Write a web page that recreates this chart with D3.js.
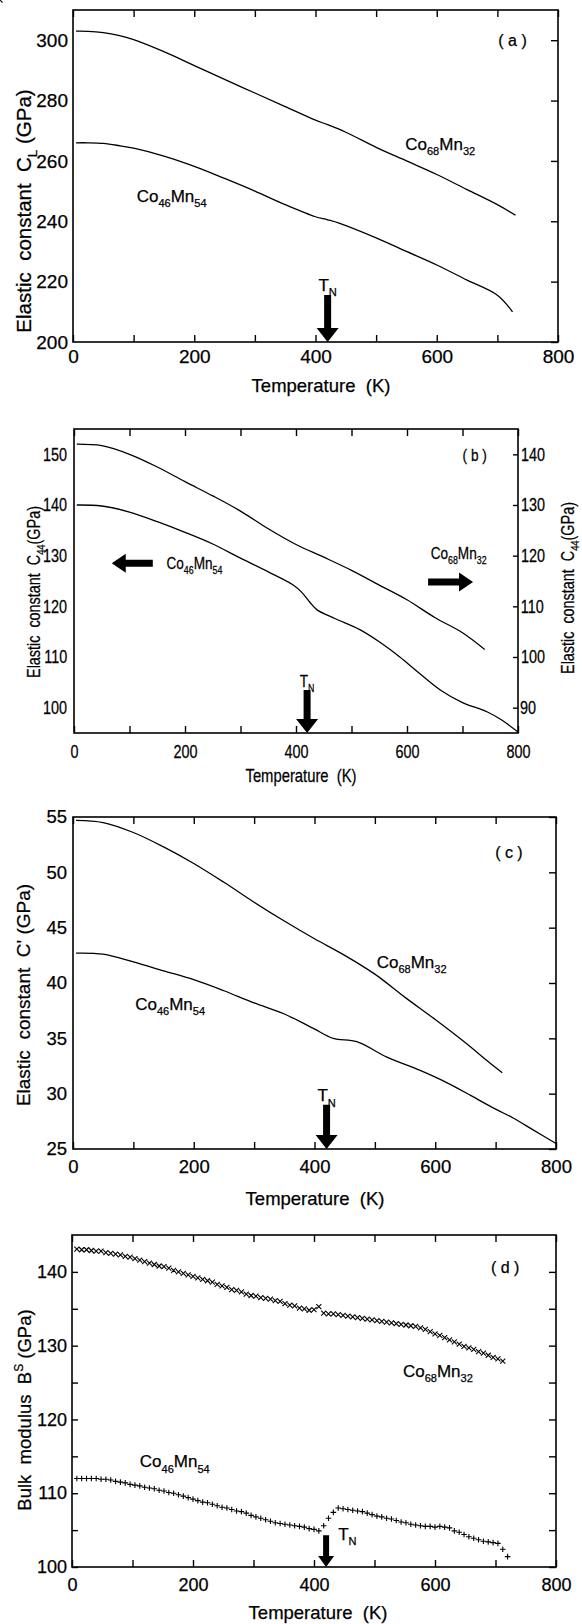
<!DOCTYPE html>
<html lang="en">
<head>
<meta charset="utf-8">
<title>Elastic constants of CoMn alloys</title>
<script src="https://cdn.jsdelivr.net/npm/d3@7"></script>
<style>
  body { margin: 0; background: #fff; }
  svg { display: block; background: #fff; }
  text { font-family: "Liberation Sans", Arial, Helvetica, sans-serif; fill: #000; stroke: #000; stroke-width: 0.25px; white-space: pre; }
  /* panel (b) was printed with condensed lettering */
  .narrow text { transform-box: fill-box; transform-origin: center; transform: scaleX(0.8); }
  .frame { fill: none; stroke: #000; stroke-width: 1.6px; }
  .curve { fill: none; stroke: #000; stroke-width: 1.3px; }
  .tick line { stroke: #000; stroke-width: 1.4px; }
  .mark { fill: none; stroke: #000; stroke-width: 1.1px; }
</style>
</head>
<body>
<div id="chart"></div>
<script>
// shared temperature axis
var tempTicks = [0, 100, 200, 300, 400, 500, 600, 700, 800];
var tempLabels = [0, 200, 400, 600, 800];
var tN = 420;

// (a) C_L
var tA68 = [5, 25, 50, 75, 100, 150, 200, 250, 300, 350, 400, 420, 450, 500, 550, 600, 650, 700, 730];
var cA68 = [303, 302.95, 302.5, 301.6, 300.2, 296.2, 291.6, 287, 282.5, 278, 273.5, 272, 269.5, 264.5, 260, 255.5, 250.5, 245.5, 242];
var tA46 = [5, 25, 50, 75, 100, 150, 200, 250, 300, 350, 400, 420, 440, 500, 550, 600, 650, 700, 725];
var cA46 = [266, 266, 265.8, 265.1, 264.2, 261.6, 258.2, 254.2, 250, 245.5, 241.5, 240.5, 239.3, 234.5, 230, 225.5, 220.5, 215.5, 210];
var ticksA = [200, 220, 240, 260, 280, 300];

// (b) C44, Co46Mn54 on left axis, Co68Mn32 on right axis
var tB46 = [5, 50, 100, 150, 200, 250, 300, 350, 395, 410, 425, 438, 470, 515, 550, 587, 620, 660, 700, 744, 770, 800];
var cB46 = [140, 139.8, 138.6, 136.7, 134.6, 132.3, 129.5, 126.8, 124.2, 122.8, 120.8, 119.3, 117.6, 115.4, 113, 110, 107, 103.5, 101, 99.2, 97.6, 95.2];
var tB68 = [5, 50, 100, 150, 200, 250, 300, 350, 400, 450, 500, 550, 600, 650, 700, 740];
var cB68 = [142, 141.7, 140.0, 137.5, 134.6, 131.8, 128.8, 125.3, 122.2, 119.7, 117.1, 114.2, 111.3, 107.8, 104.8, 101.5];
var ticksBLeft = [100, 110, 120, 130, 140, 150];
var ticksBRight = [90, 100, 110, 120, 130, 140];

// (c) C'
var tC68 = [5, 50, 100, 150, 200, 250, 300, 350, 400, 450, 500, 550, 600, 650, 690, 711];
var cC68 = [54.7, 54.5, 53.6, 52.3, 50.8, 49.1, 47.3, 45.6, 44.0, 42.5, 40.8, 38.7, 36.7, 34.6, 32.8, 31.9];
var tC46 = [5, 50, 100, 150, 200, 250, 300, 350, 398, 431, 470, 520, 575, 619, 660, 700, 729, 760, 800];
var cC46 = [42.7, 42.6, 41.9, 41.1, 40.3, 39.3, 38.2, 37.2, 35.9, 35.0, 34.7, 33.3, 32.1, 31.0, 29.8, 28.6, 27.8, 26.8, 25.5];
var ticksC = [25, 30, 35, 40, 45, 50, 55];

// (d) bulk modulus B^S, measured points
var tD = [8, 16, 24, 32, 40, 48, 56, 64, 72, 80, 88, 96, 104, 112, 120, 128, 136, 144, 152, 160,
  168, 176, 184, 192, 200, 208, 216, 224, 232, 240, 248, 256, 264, 272, 280, 288, 296, 304, 312, 320,
  328, 336, 344, 352, 360, 368, 376, 384, 392, 400, 408, 416, 424, 432, 440, 448, 456, 464, 472, 480,
  488, 496, 504, 512, 520, 528, 536, 544, 552, 560, 568, 576, 584, 592, 600, 608, 616, 624, 632, 640,
  648, 656, 664, 672, 680, 688, 696, 704, 712, 720];
var bD68 = [143.1, 143.0, 143.0, 142.9, 142.8, 142.8, 142.6, 142.5, 142.4, 142.3, 142.1, 142.0, 141.8, 141.6, 141.4, 141.2, 141.0, 140.8, 140.7, 140.5,
  140.2, 140.0, 139.8, 139.6, 139.4, 139.2, 139.0, 138.8, 138.6, 138.3, 138.1, 137.9, 137.6, 137.5, 137.3, 137.0, 136.8, 136.7, 136.5, 136.4,
  136.3, 136.1, 136.0, 135.7, 135.5, 135.4, 135.1, 135.0, 134.8, 134.9, 135.3, 134.4, 134.3, 134.3, 134.2, 134.1, 134.0, 133.9, 133.8, 133.7,
  133.6, 133.5, 133.4, 133.3, 133.2, 133.1, 133.0, 132.9, 132.8, 132.7, 132.6, 132.4, 132.2, 131.9, 131.6, 131.4, 131.1, 130.8, 130.5, 130.2,
  129.9, 129.7, 129.5, 129.2, 129.0, 128.7, 128.4, 128.2, 127.9];
var bD46 = [112.0, 112.0, 112.0, 112.0, 112.0, 111.9, 111.9, 111.8, 111.6, 111.5, 111.4, 111.2, 111.1, 111.0, 110.8, 110.7, 110.6, 110.4, 110.3, 110.1,
  110.0, 109.8, 109.6, 109.4, 109.2, 109.0, 108.8, 108.7, 108.5, 108.3, 108.1, 108.0, 107.8, 107.6, 107.5, 107.3, 107.0, 106.8, 106.6, 106.4,
  106.2, 106.0, 105.9, 105.8, 105.7, 105.6, 105.5, 105.4, 105.2, 105.1, 104.9, 105.6, 106.6, 107.4, 108.0, 107.9, 107.8, 107.7, 107.6, 107.5,
  107.3, 107.1, 106.9, 106.8, 106.6, 106.5, 106.3, 106.1, 106.0, 105.8, 105.7, 105.6, 105.5, 105.5, 105.4, 105.5, 105.4, 105.3, 104.9, 104.7,
  104.4, 104.1, 103.9, 103.7, 103.5, 103.4, 103.3, 103.2, 102.4, 101.4];
var ticksD = [100, 105, 110, 115, 120, 125, 130, 135, 140];
var labelsD = [100, 110, 120, 130, 140];

// compound names as rich text pieces
var co68 = [{ t: "Co" }, { t: "68", sub: 1 }, { t: "Mn" }, { t: "32", sub: 1 }];
var co46 = [{ t: "Co" }, { t: "46", sub: 1 }, { t: "Mn" }, { t: "54", sub: 1 }];
var tnLabel = [{ t: "T" }, { t: "N", sub: 1 }];
var tempTitle = [{ t: "Temperature  (K)" }];

var svg = d3.select("#chart").append("svg").attr("width", 582).attr("height", 1624);
var line = d3.line().curve(d3.curveCatmullRom.alpha(0.5));

function addRich(g, parts, fs) {
  var t = g.append("text").attr("font-size", fs);
  var shift = 0;
  parts.forEach(function (p) {
    var target = p.sub ? 0.3 * fs : p.sup ? -0.42 * fs : 0;
    t.append("tspan")
      .attr("dy", target - shift)
      .attr("font-size", (p.sub || p.sup) ? fs * 0.65 : fs)
      .text(p.t);
    shift = target;
  });
  return t;
}

function arrowPath(x1, y1, x2, y2, sw, hw, hl) {
  var dx = x2 - x1, dy = y2 - y1, len = Math.hypot(dx, dy);
  var ux = dx / len, uy = dy / len, nx = -uy, ny = ux;
  var bx = x2 - ux * hl, by = y2 - uy * hl;
  var pts = [
    [x1 + nx * sw / 2, y1 + ny * sw / 2], [bx + nx * sw / 2, by + ny * sw / 2],
    [bx + nx * hw / 2, by + ny * hw / 2], [x2, y2],
    [bx - nx * hw / 2, by - ny * hw / 2], [bx - nx * sw / 2, by - ny * sw / 2],
    [x1 - nx * sw / 2, y1 - ny * sw / 2]
  ];
  return "M" + pts.join("L") + "Z";
}

function drawPanel(p) {
  var g = svg.append("g").attr("class", p.narrow ? "narrow" : null);
  var x = d3.scaleLinear().domain([0, 800]).range([p.l, p.r]);
  var y = d3.scaleLinear().domain(p.yDomain).range([p.b, p.t]);
  var y2 = p.y2Domain ? d3.scaleLinear().domain(p.y2Domain).range([p.b, p.t]) : y;

  g.append("rect").attr("class", "frame")
    .attr("x", p.l).attr("y", p.t).attr("width", p.r - p.l).attr("height", p.b - p.t);

  var ax = g.append("g").attr("font-size", p.tickFs);
  ax.append("g").attr("transform", "translate(0," + p.b + ")")
    .call(d3.axisBottom(x).tickValues(tempTicks).tickSize(-7).tickPadding(p.xPad)
      .tickFormat(function (d) { return tempLabels.indexOf(d) >= 0 ? d : ""; }));
  ax.append("g").attr("transform", "translate(0," + p.t + ")")
    .call(d3.axisTop(x).tickValues(tempTicks).tickSize(-7).tickFormat(""));
  ax.append("g").attr("transform", "translate(" + p.l + ",0)")
    .call(d3.axisLeft(y).tickValues(p.leftTicks).tickSize(-p.leftLen).tickPadding(p.yPad)
      .tickFormat(function (d) { return p.leftLabels.indexOf(d) >= 0 ? d : ""; }));
  ax.append("g").attr("transform", "translate(" + p.r + ",0)")
    .call(d3.axisRight(y2).tickValues(p.rightTicks).tickSize(-p.rightLen).tickPadding(p.rPad)
      .tickFormat(function (d) { return p.rightLabels.indexOf(d) >= 0 ? d : ""; }));
  ax.selectAll(".domain").remove();
  ax.selectAll("g").attr("font-family", null).attr("font-size", null);

  p.series.forEach(function (s) {
    var ys = s.right ? y2 : y;
    var pts = s.t.map(function (t, i) { return [x(t), ys(s.v[i])]; });
    if (s.mark === "line") {
      g.append("path").attr("class", "curve").attr("d", line(pts));
    } else {
      g.selectAll(null).data(pts).enter().append("path")
        .attr("class", "mark")
        .attr("transform", function (d) { return "translate(" + d + ")"; })
        .attr("d", s.mark === "x" ? "M-2.5,-2.5L2.5,2.5M-2.5,2.5L2.5,-2.5" : "M-2.8,0H2.8M0,-2.8V2.8");
    }
  });

  p.notes.forEach(function (n) {
    addRich(g, n.parts, n.fs)
      .attr("x", x(n.T)).attr("y", y(n.v))
      .attr("text-anchor", n.anchor || "start");
  });

  p.arrows.forEach(function (a) {
    var d = a.vertical
      ? arrowPath(x(a.T), y(a.from), x(a.T), y(a.to), a.sw, a.hw, a.hl)
      : arrowPath(x(a.from), y(a.v), x(a.to), y(a.v), a.sw, a.hw, a.hl);
    g.append("path").attr("d", d).attr("fill", "#000");
  });

  // rotated titles sit in their own group so a css squeeze acts along the text
  p.yTitles.forEach(function (yt) {
    var tg = g.append("g").attr("transform", "translate(" + yt.x + "," + yt.y + ") rotate(-90)");
    addRich(tg, yt.parts, yt.fs).attr("text-anchor", "middle");
  });
  addRich(g, tempTitle, p.xTitleFs).attr("text-anchor", "middle")
    .attr("x", p.xTitleX).attr("y", p.xTitleY);
}

var bigArrow = { sw: 7, hw: 22, hl: 14 };

var panels = [
  {
    l: 73, r: 558, t: 10, b: 342, yDomain: [200, 310],
    tickFs: 19, xPad: 8, yPad: 5,
    leftTicks: ticksA, leftLabels: ticksA, leftLen: 0,
    rightTicks: ticksA, rightLabels: [], rightLen: 7, rPad: 3,
    series: [{ t: tA68, v: cA68, mark: "line" }, { t: tA46, v: cA46, mark: "line" }],
    notes: [
      { parts: [{ t: "( a )" }], T: 725, v: 298, fs: 16, anchor: "middle" },
      { parts: co68, T: 548, v: 263.6, fs: 17 },
      { parts: co46, T: 105, v: 246.4, fs: 17 },
      { parts: tnLabel, T: tN, v: 216.9, fs: 17, anchor: "middle" }
    ],
    arrows: [Object.assign({ vertical: 1, T: tN, from: 215.6, to: 200 }, bigArrow)],
    yTitles: [{ parts: [{ t: "Elastic  constant  C" }, { t: "L", sub: 1 }, { t: " (GPa)" }], fs: 20.5, x: 31, y: 211 }],
    xTitleFs: 18.5, xTitleX: 321, xTitleY: 392
  },
  {
    l: 74, r: 518, t: 429, b: 733, yDomain: [95, 155], y2Domain: [85, 145], narrow: 1,
    tickFs: 18, xPad: 12, yPad: 4,
    leftTicks: ticksBLeft, leftLabels: ticksBLeft, leftLen: 0,
    rightTicks: ticksBRight, rightLabels: ticksBRight, rightLen: 5, rPad: 0,
    series: [{ t: tB68, v: cB68, mark: "line", right: 1 }, { t: tB46, v: cB46, mark: "line" }],
    notes: [
      { parts: [{ t: "( b )" }], T: 722, v: 148.6, fs: 17, anchor: "middle" },
      { parts: co68, T: 630, v: 129.3, fs: 17 },
      { parts: co46, T: 154, v: 127.4, fs: 17 },
      { parts: tnLabel, T: tN, v: 104.1, fs: 17, anchor: "middle" }
    ],
    arrows: [
      Object.assign({ vertical: 1, T: tN, from: 103.5, to: 95 }, bigArrow),
      { v: 128.5, from: 142, to: 68, sw: 7, hw: 19, hl: 14 },
      { v: 124.8, from: 638, to: 719, sw: 7, hw: 19, hl: 14 }
    ],
    yTitles: [
      { parts: [{ t: "Elastic  constant  C" }, { t: "44", sub: 1 }, { t: "(GPa)" }], fs: 18, x: 40, y: 592 },
      { parts: [{ t: "Elastic  constant  C" }, { t: "44", sub: 1 }, { t: "(GPa)" }], fs: 18, x: 574, y: 588 }
    ],
    xTitleFs: 18.5, xTitleX: 301, xTitleY: 782
  },
  {
    l: 73, r: 556, t: 817, b: 1149, yDomain: [25, 55],
    tickFs: 18.5, xPad: 11, yPad: 6,
    leftTicks: ticksC, leftLabels: ticksC, leftLen: 0,
    rightTicks: ticksC, rightLabels: [], rightLen: 7, rPad: 3,
    series: [{ t: tC68, v: cC68, mark: "line" }, { t: tC46, v: cC46, mark: "line" }],
    notes: [
      { parts: [{ t: "( c )" }], T: 722, v: 51.3, fs: 16, anchor: "middle" },
      { parts: co68, T: 503, v: 41.35, fs: 17 },
      { parts: co46, T: 103, v: 37.6, fs: 17 },
      { parts: tnLabel, T: tN, v: 29.3, fs: 17, anchor: "middle" }
    ],
    arrows: [Object.assign({ vertical: 1, T: tN, from: 29, to: 25 }, bigArrow)],
    yTitles: [{ parts: [{ t: "Elastic  constant  C' (GPa)" }], fs: 19, x: 30, y: 995 }],
    xTitleFs: 18.5, xTitleX: 315, xTitleY: 1205
  },
  {
    l: 72, r: 556, t: 1235, b: 1567, yDomain: [100, 145],
    tickFs: 18, xPad: 11, yPad: 5,
    leftTicks: ticksD, leftLabels: labelsD, leftLen: 6,
    rightTicks: ticksD, rightLabels: [], rightLen: 7, rPad: 3,
    series: [{ t: tD, v: bD68, mark: "x" }, { t: tD, v: bD46, mark: "+" }],
    notes: [
      { parts: [{ t: "( d )" }], T: 716, v: 139.8, fs: 16, anchor: "middle" },
      { parts: co68, T: 547, v: 125.7, fs: 17 },
      { parts: co46, T: 112, v: 113.5, fs: 17 },
      { parts: tnLabel, T: 440, v: 103.7, fs: 17 }
    ],
    arrows: [{ vertical: 1, T: tN, from: 104.3, to: 100, sw: 6, hw: 16, hl: 11 }],
    yTitles: [{ parts: [{ t: "Bulk  modulus  B" }, { t: "S", sup: 1 }, { t: " (GPa)" }], fs: 18.5, x: 31, y: 1410 }],
    xTitleFs: 18.5, xTitleX: 318, xTitleY: 1619
  }
];

panels.forEach(drawPanel);
</script>
</body>
</html>
